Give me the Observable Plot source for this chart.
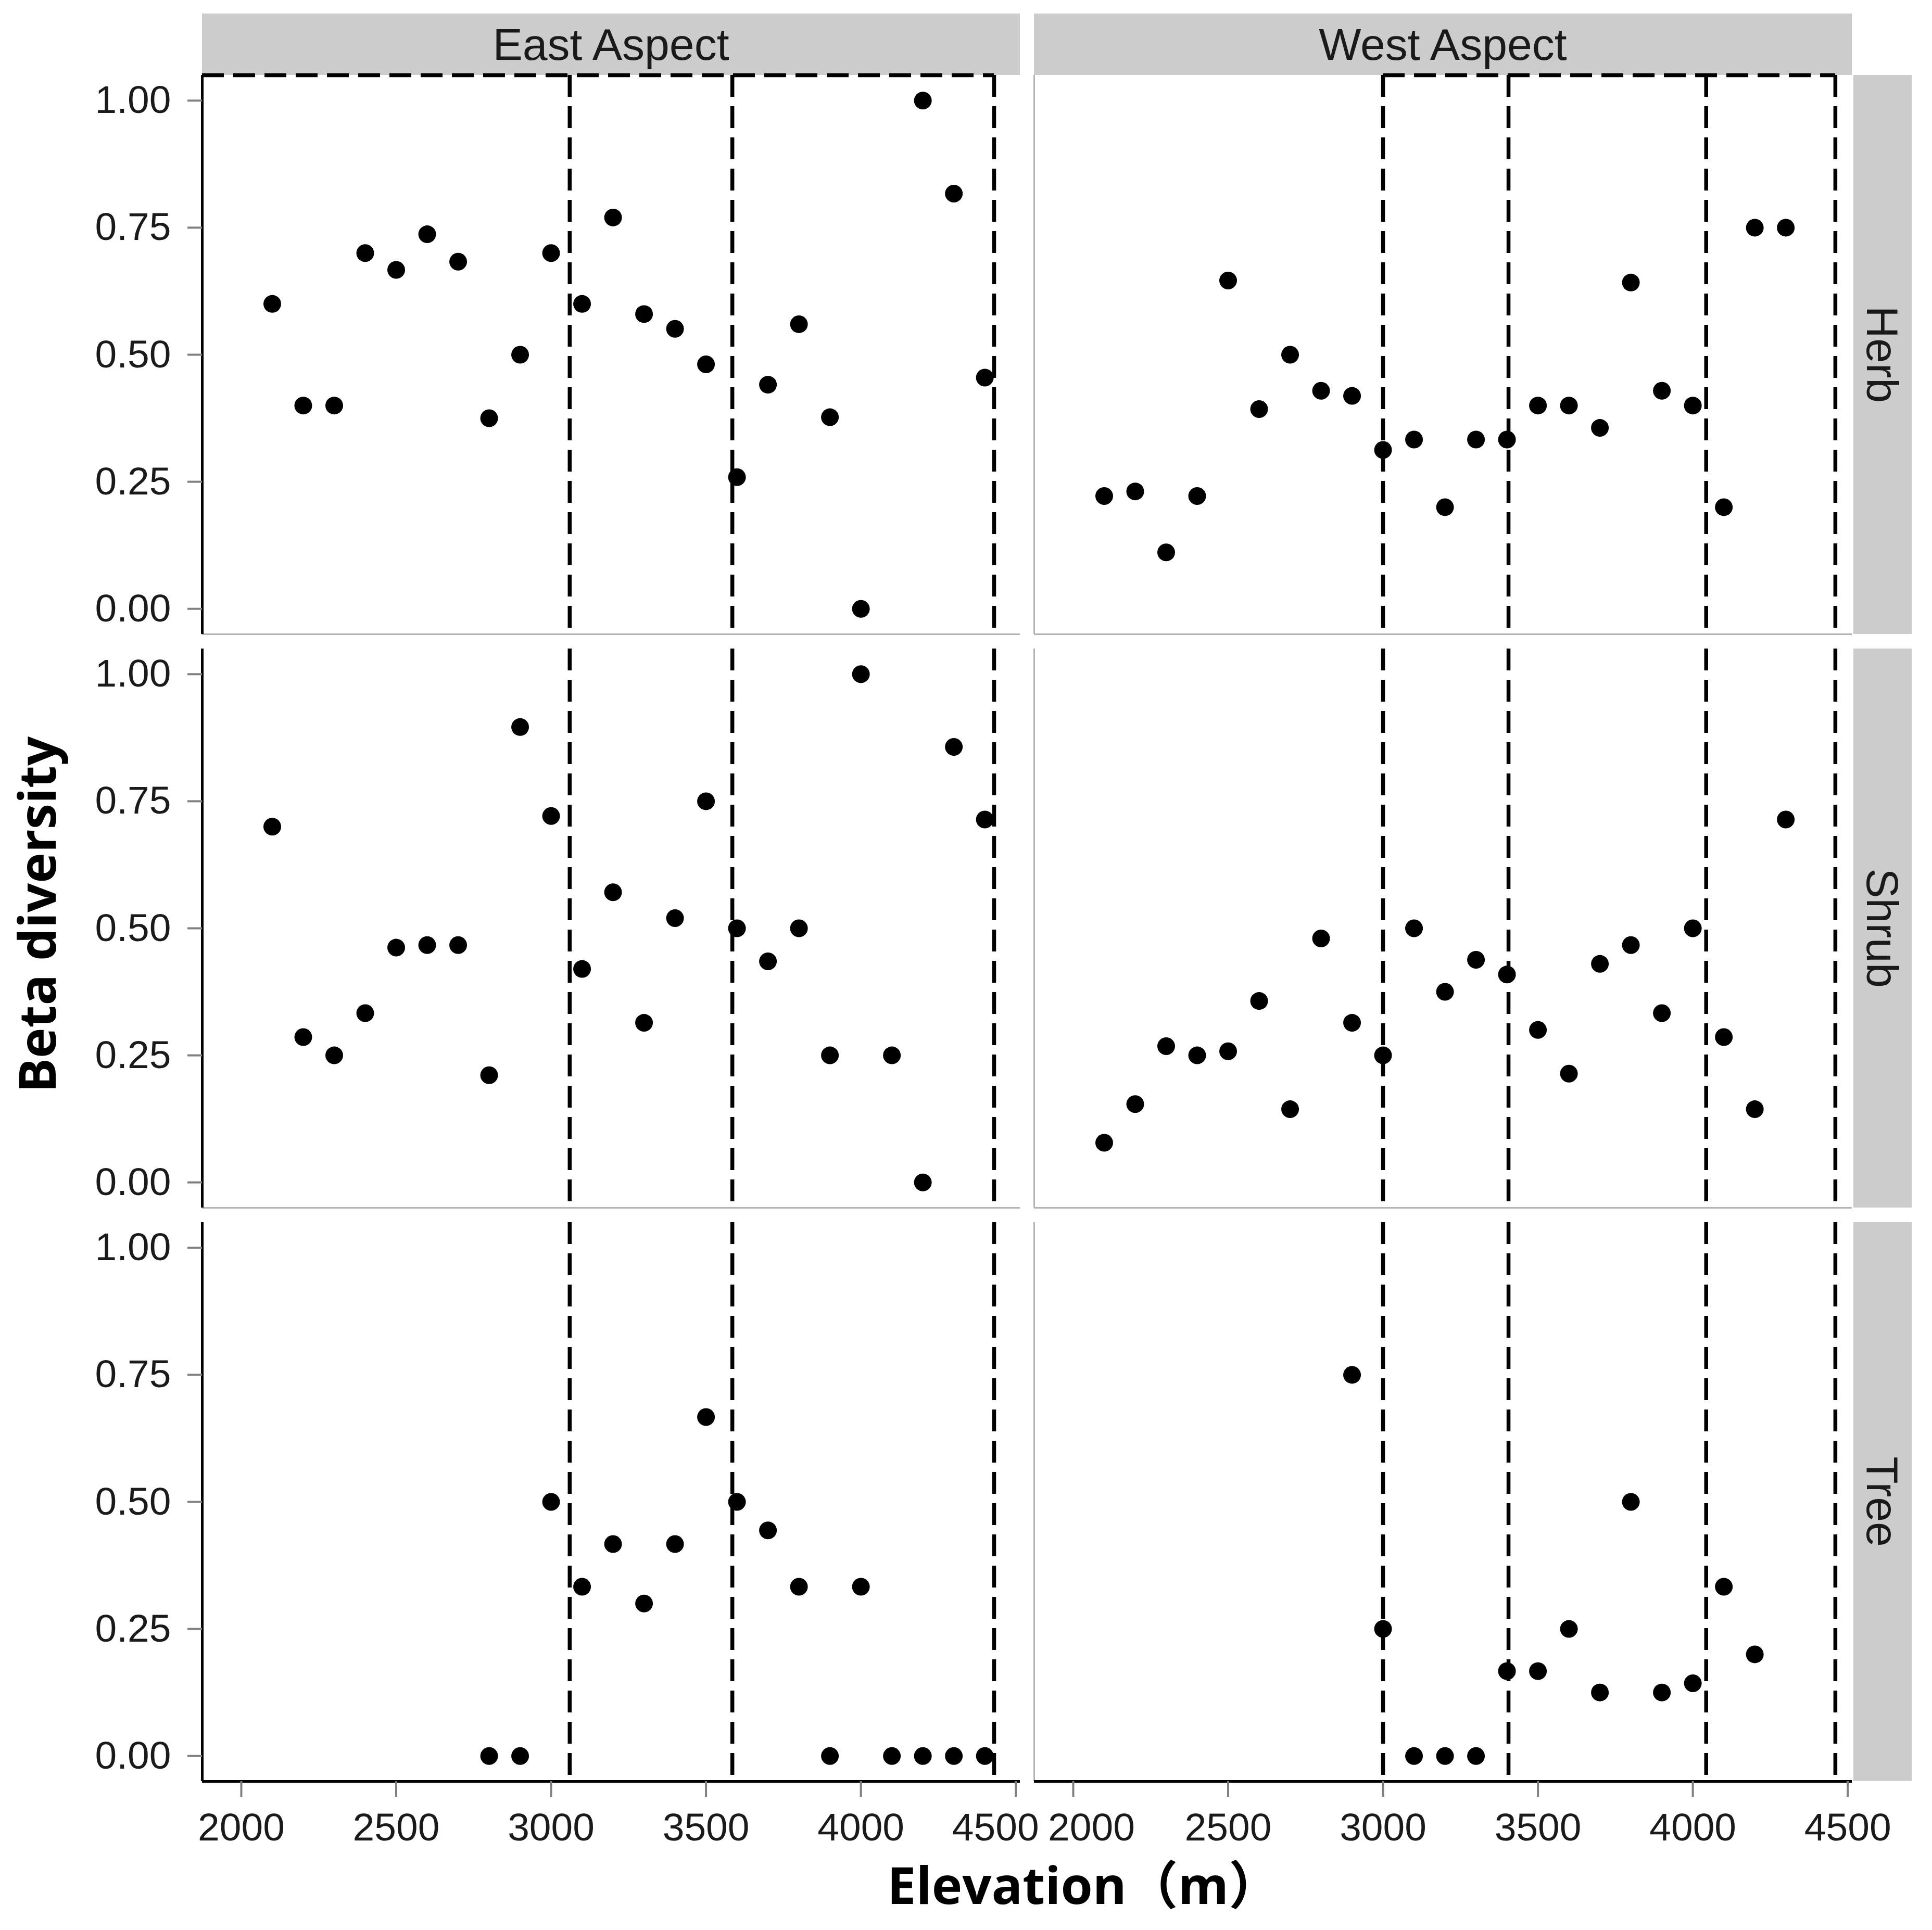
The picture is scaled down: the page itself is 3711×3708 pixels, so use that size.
<!DOCTYPE html>
<html>
<head>
<meta charset="utf-8">
<script src="https://cdn.jsdelivr.net/npm/d3@7"></script>
<script src="https://cdn.jsdelivr.net/npm/@observablehq/plot@0.6"></script>
<style>
  html, body { margin: 0; padding: 0; background: #ffffff; }
</style>
</head>
<body>
<div id="chart"></div>
<script>
// ---------------- data ----------------
const aspects = ["East Aspect", "West Aspect"];
const forms = ["Herb", "Shrub", "Tree"];
const elevations = [2100, 2200, 2300, 2400, 2500, 2600, 2700, 2800, 2900, 3000, 3100, 3200,
                    3300, 3400, 3500, 3600, 3700, 3800, 3900, 4000, 4100, 4200, 4300, 4400];

const eastHerb  = [0.60, 0.40, 0.40, 0.70, 0.667, 0.737, 0.683, 0.375, 0.50, 0.70, 0.60, 0.77,
                   0.58, 0.551, 0.481, 0.259, 0.441, 0.56, 0.377, 0.00, null, 1.00, 0.817, 0.455];
const westHerb  = [0.222, 0.231, 0.111, 0.222, 0.646, 0.393, 0.50, 0.429, 0.419, 0.3125, 0.333, 0.20,
                   0.333, 0.333, 0.40, 0.40, 0.356, 0.642, 0.429, 0.40, 0.20, 0.75, 0.75, null];
const eastShrub = [0.70, 0.286, 0.25, 0.333, 0.462, 0.467, 0.467, 0.211, 0.896, 0.721, 0.42, 0.571,
                   0.314, 0.52, 0.75, 0.50, 0.435, 0.50, 0.25, 1.00, 0.25, 0.00, 0.857, 0.714];
const westShrub = [0.078, 0.154, 0.268, 0.25, 0.258, 0.357, 0.144, 0.48, 0.314, 0.25, 0.50, 0.375,
                   0.438, 0.409, 0.30, 0.214, 0.43, 0.467, 0.333, 0.50, 0.286, 0.144, 0.714, null];
const eastTree  = [null, null, null, null, null, null, null, 0.00, 0.00, 0.50, 0.333, 0.417,
                   0.30, 0.417, 0.667, 0.50, 0.444, 0.333, 0.00, 0.333, 0.00, 0.00, 0.00, 0.00];
const westTree  = [null, null, null, null, null, null, null, null, 0.75, 0.25, 0.00, 0.00,
                   0.00, 0.167, 0.167, 0.25, 0.125, 0.50, 0.125, 0.143, 0.333, 0.20, null, null];

// zone boundaries (dashed lines), elevation in m
const eastBreaks = [3060, 3585, 4430];
const westBreaks = [3000, 3405, 4043, 4460];

const xTicks = [2000, 2500, 3000, 3500, 4000, 4500];
const yTicks = [0, 0.25, 0.5, 0.75, 1];
const xDomain = [1874, 4514];
const yDomain = [-0.05, 1.05];

const xTitle = "Elevation（m）";
const yTitle = "Beta diversity";

// ---------------- tables ----------------
const series = [
  ["East Aspect", "Herb", eastHerb], ["West Aspect", "Herb", westHerb],
  ["East Aspect", "Shrub", eastShrub], ["West Aspect", "Shrub", westShrub],
  ["East Aspect", "Tree", eastTree], ["West Aspect", "Tree", westTree]
];
const points = [];
for (const [aspect, form, vals] of series) {
  vals.forEach((v, i) => { if (v != null) points.push({aspect, form, elev: elevations[i], beta: v}); });
}
const breaks = [];
for (const form of forms) {
  eastBreaks.forEach(x => breaks.push({aspect: "East Aspect", form, x}));
  westBreaks.forEach(x => breaks.push({aspect: "West Aspect", form, x}));
}
const topDash = [
  {aspect: "East Aspect", form: "Herb", x1: xDomain[0], x2: eastBreaks[eastBreaks.length - 1]},
  {aspect: "West Aspect", form: "Herb", x1: westBreaks[0], x2: westBreaks[westBreaks.length - 1]}
];
const cells = aspects.flatMap(aspect => forms.map(form => ({aspect, form})));
const xLabels = aspects.flatMap(aspect => xTicks.map(v => ({aspect, form: "Tree", v,
  shift: (aspect === "East Aspect" && v === 4500) ? "left" : (aspect === "West Aspect" && v === 2000) ? "right" : "none"})));

// ---------------- layout ----------------
const W = 3711, H = 3708;
const mL = 388, mR = 154, mT = 144, mB = 286;
const colGap = 27, rowGap = 28;
const colStep = (W - mL - mR + colGap) / 2;
const rowStep = (H - mT - mB + rowGap) / 3;
const dash = {stroke: "#000", strokeWidth: 7.5, strokeDasharray: "42,18"};

const plot = Plot.plot({
  width: W, height: H,
  marginLeft: mL, marginRight: mR, marginTop: mT, marginBottom: mB,
  style: {fontFamily: "'Liberation Sans', Arial, sans-serif", fontSize: "75px", color: "#1a1a1a", background: "#ffffff"},
  x: {domain: xDomain},
  y: {domain: yDomain},
  fx: {domain: aspects, paddingInner: colGap / colStep, paddingOuter: 0, axis: null},
  fy: {domain: forms, paddingInner: rowGap / rowStep, paddingOuter: 0, axis: null},
  marks: [
    // dashed zone lines
    Plot.ruleX(breaks, {x: "x", fx: "aspect", fy: "form", ...dash}),
    Plot.ruleY(topDash, {y: () => yDomain[1], x1: "x1", x2: "x2", fx: "aspect", fy: "form", ...dash}),
    // grey panel lines
    Plot.ruleY(cells.filter(d => d.form !== "Tree"), {y: () => yDomain[0], fx: "aspect", fy: "form", stroke: "#b3b3b3", strokeWidth: 3}),
    Plot.ruleX(cells.filter(d => d.aspect === "West Aspect"), {x: () => xDomain[0], fx: "aspect", fy: "form", stroke: "#b3b3b3", strokeWidth: 3}),
    // black axis lines
    Plot.ruleX(cells.filter(d => d.aspect === "East Aspect"), {x: () => xDomain[0], fx: "aspect", fy: "form", stroke: "#000", strokeWidth: 5}),
    Plot.ruleY(cells.filter(d => d.form === "Tree"), {y: () => yDomain[0], fx: "aspect", fy: "form", stroke: "#000", strokeWidth: 5}),
    // axes
    Plot.axisY({anchor: "left", facetAnchor: "left", ticks: yTicks, tickFormat: d3.format(".2f"),
      tickSize: 28, tickPadding: 32, stroke: "#808080", strokeWidth: 4, fill: "#1a1a1a", fontSize: 75, label: null}),
    Plot.axisX({anchor: "bottom", facetAnchor: "bottom", ticks: xTicks, tickFormat: () => "",
      tickSize: 30, stroke: "#808080", strokeWidth: 4, label: null}),
    Plot.text(xLabels.filter(d => d.shift === "none"), {x: "v", text: d => String(d.v), fx: "aspect", fy: "form",
      frameAnchor: "bottom", lineAnchor: "top", dy: 60, fontSize: 75, fill: "#1a1a1a"}),
    Plot.text(xLabels.filter(d => d.shift === "left"), {x: "v", text: d => String(d.v), fx: "aspect", fy: "form",
      frameAnchor: "bottom", lineAnchor: "top", dy: 60, dx: -39, fontSize: 75, fill: "#1a1a1a"}),
    Plot.text(xLabels.filter(d => d.shift === "right"), {x: "v", text: d => String(d.v), fx: "aspect", fy: "form",
      frameAnchor: "bottom", lineAnchor: "top", dy: 60, dx: 35, fontSize: 75, fill: "#1a1a1a"}),
    // points
    Plot.dot(points, {x: "elev", y: "beta", fx: "aspect", fy: "form", r: 17, fill: "#000", stroke: "none"})
  ]
});

document.getElementById("chart").appendChild(plot);

// ---------------- strips & titles ----------------
const svg = d3.select(plot);
const fxS = plot.scale("fx");
const fyS = plot.scale("fy");
const deco = svg.insert("g", ":first-child").attr("aria-label", "strips");
const stripTop = 26;
for (const a of aspects) {
  const x0 = fxS.apply(a), bw = fxS.bandwidth;
  deco.append("rect").attr("x", x0).attr("y", stripTop).attr("width", bw).attr("height", mT - stripTop).attr("fill", "#cccccc");
  deco.append("text").attr("x", x0 + bw / 2).attr("y", (stripTop + mT) / 2).attr("dy", "0.35em")
    .attr("text-anchor", "middle").attr("font-size", 86).attr("fill", "#1a1a1a").text(a);
}
const sx = W - mR + 3, sw = 112;
for (const f of forms) {
  const y0 = fyS.apply(f), bh = fyS.bandwidth;
  deco.append("rect").attr("x", sx).attr("y", y0).attr("width", sw).attr("height", bh).attr("fill", "#cccccc");
  deco.append("text").attr("transform", `translate(${sx + sw / 2},${y0 + bh / 2}) rotate(90)`).attr("dy", "0.35em")
    .attr("text-anchor", "middle").attr("font-size", 86).attr("fill", "#1a1a1a").text(f);
}
svg.append("text").attr("transform", "translate(107,1757) rotate(-90)").attr("text-anchor", "middle")
  .attr("font-family", "'Open Sans', sans-serif").attr("font-weight", 700).attr("font-size", 99).attr("fill", "#000").text(yTitle);
svg.append("text").attr("x", 1704).attr("y", 3658).attr("text-anchor", "start")
  .attr("font-family", "'Open Sans', 'Noto Sans CJK SC', sans-serif").attr("font-weight", 700).attr("font-size", 99).attr("fill", "#000").text(xTitle);
</script>
</body>
</html>
